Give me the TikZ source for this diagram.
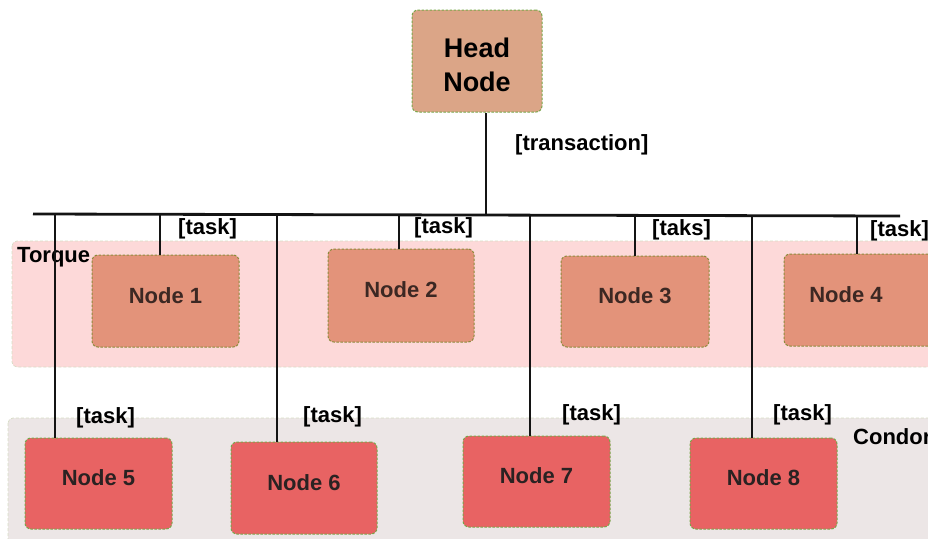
\documentclass[tikz,border=0pt]{standalone}
\usepackage{fontspec}
\setmainfont{Liberation Sans}
\definecolor{headfill}{HTML}{DBA587}
\definecolor{topfill}{HTML}{E3937A}
\definecolor{botfill}{HTML}{E86363}
\definecolor{torqueband}{HTML}{FDD9D9}
\definecolor{condorband}{HTML}{ECE6E6}
\definecolor{greenedge}{HTML}{78A64A}
\definecolor{oliveedge}{HTML}{8C8C3C}
\definecolor{bandedge}{HTML}{D6DCC4}
\definecolor{toptext}{HTML}{3C2823}
\definecolor{bottext}{HTML}{2A2222}
\begin{document}
\begin{tikzpicture}[x=1pt,y=-1pt,
  band/.style={draw=bandedge, dash pattern=on 3pt off 2pt, line width=0.7pt, rounded corners=5pt},
  nodebox/.style={rectangle, rounded corners=6pt, dash pattern=on 2.5pt off 1.5pt, line width=1pt,
    font=\bfseries\fontsize{22}{26}\selectfont, text height=16pt, text depth=12pt, inner sep=0pt},
  topbox/.style={nodebox, fill=topfill, draw=oliveedge, text=toptext},
  botbox/.style={nodebox, fill=botfill, draw=greenedge, text=bottext},
  lbl/.style={font=\bfseries\fontsize{22}{26}\selectfont, inner sep=0pt, anchor=west},
  wire/.style={line width=2.4pt, draw=black!92},
  buswire/.style={line width=2.8pt, draw=black!92}]
\useasboundingbox (0,0) rectangle (928,538);
\clip (0,0) rectangle (928,538);
% bands
\path[band, fill=torqueband] (12,241) rectangle (940,367);
\path[band, fill=condorband] (8,418) rectangle (940,545);
\node[lbl] (torque) at (17,257) {Torque};
\node[lbl] (condor) at (853,437) {Condor};
% head
\node[rectangle, rounded corners=6pt, fill=headfill, draw=greenedge, dash pattern=on 2.5pt off 1.5pt,
  line width=1pt, minimum width=130pt, minimum height=102pt,
  label={[name=headtxt, align=center, yshift=-4pt, font=\bfseries\fontsize{27}{34}\selectfont]center:Head\\Node}] (head) at (477,61) {};
% bus coordinates
\coordinate (busL) at (33,214);
\coordinate (busR) at (900,216);
\coordinate (hc) at (486,214);
\coordinate (b1) at (160,214);
\coordinate (b2) at (399,214);
\coordinate (b3) at (635,215);
\coordinate (b4) at (857,215);
\coordinate (b5) at (55,214);
\coordinate (b6) at (277,214);
\coordinate (b7) at (530,215);
\coordinate (b8) at (752,215);
% nodes
\node[topbox, minimum width=147pt, minimum height=92pt] (n1) at (165.5,301) {Node 1};
\node[topbox, minimum width=146pt, minimum height=93pt] (n2) at (401,295.5) {Node 2};
\node[topbox, minimum width=148pt, minimum height=91pt] (n3) at (635,301.5) {Node 3};
\node[topbox, minimum width=150pt, minimum height=92pt] (n4) at (859,300) {Node 4\hspace*{26pt}};
\node[botbox, minimum width=147pt, minimum height=91pt] (n5) at (98.5,483.5) {Node 5};
\node[botbox, minimum width=146pt, minimum height=92pt] (n6) at (304,488) {Node 6};
\node[botbox, minimum width=147pt, minimum height=91pt] (n7) at (536.5,481.5) {Node 7};
\node[botbox, minimum width=147pt, minimum height=91pt] (n8) at (763.5,483.5) {Node 8};
% wires
\draw[wire] (hc |- head.south) -- (hc);
\draw[wire] (b1) -- (b1 |- n1.north);
\draw[wire] (b2) -- (b2 |- n2.north);
\draw[wire] (b3) -- (b3 |- n3.north);
\draw[wire] (b4) -- (b4 |- n4.north);
\draw[wire] (b5) -- (b5 |- n5.north);
\draw[wire] (b6) -- (b6 |- n6.north);
\draw[wire] (b7) -- (b7 |- n7.north);
\draw[wire] (b8) -- (b8 |- n8.north);
\draw[buswire] (busL) -- (busR);
% labels
\node[lbl] (ltr) at (515,145) {[transaction]};
\node[lbl] (l1) at (178,229) {[task]};
\node[lbl] (l2) at (414,228) {[task]};
\node[lbl] (l3) at (652,230) {[taks]};
\node[lbl] (l4) at (870,231) {[task]};
\node[lbl] (l5) at (76,418) {[task]};
\node[lbl] (l6) at (303,417) {[task]};
\node[lbl] (l7) at (562,415) {[task]};
\node[lbl] (l8) at (773,415) {[task]};
\end{tikzpicture}
\end{document}
